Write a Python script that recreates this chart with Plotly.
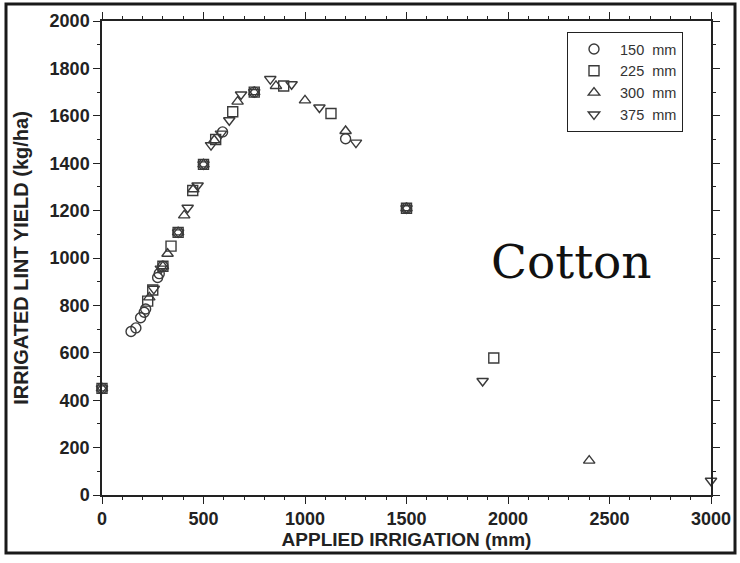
import plotly.graph_objects as go

# Irrigated lint yield (kg/ha) against applied irrigation (mm),
# one series per soil water holding capacity.
irr_150 = [0, 143, 167, 190, 208, 215, 274, 282, 300, 375, 500, 594, 750, 1200, 1500]
yld_150 = [450, 690, 705, 748, 771, 785, 918, 934, 965, 1108, 1395, 1532, 1700, 1503, 1210]

irr_225 = [0, 225, 250, 300, 340, 375, 447, 500, 560, 644, 750, 895, 1128, 1500, 1930]
yld_225 = [450, 818, 865, 965, 1050, 1108, 1285, 1395, 1500, 1617, 1700, 1726, 1610, 1210, 578]

irr_300 = [0, 233, 300, 323, 375, 405, 450, 500, 553, 668, 750, 857, 1000, 1200, 1500, 2400]
yld_300 = [450, 834, 965, 1018, 1108, 1180, 1290, 1395, 1497, 1660, 1700, 1726, 1665, 1536, 1210, 145]

irr_375 = [0, 255, 290, 375, 422, 471, 500, 537, 586, 627, 685, 750, 829, 934, 1071, 1251, 1500, 1875, 3000]
yld_375 = [450, 870, 955, 1108, 1212, 1306, 1395, 1476, 1525, 1581, 1690, 1700, 1755, 1733, 1635, 1487, 1210, 481, 60]

series_names = ["150  mm", "225  mm", "300  mm", "375  mm"]
series_symbols = ["circle-open", "square-open", "triangle-up-open", "triangle-down-open"]

x_ticks = [0, 500, 1000, 1500, 2000, 2500, 3000]
y_ticks = [0, 200, 400, 600, 800, 1000, 1200, 1400, 1600, 1800, 2000]

W, H = 740, 563
L, R, T, B = 102, 711, 21, 495  # plot area edges in pixels

INK = "#222222"
MARK = "#3a3a3a"
FONT = "Liberation Sans, Arial, sans-serif"

fig = go.Figure()
for xs, ys, name, sym in zip(
    [irr_150, irr_225, irr_300, irr_375],
    [yld_150, yld_225, yld_300, yld_375],
    series_names,
    series_symbols,
):
    fig.add_trace(
        go.Scatter(
            x=xs,
            y=ys,
            mode="markers",
            name=name,
            cliponaxis=False,
            marker=dict(symbol=sym, size=10, color=MARK, line=dict(width=1.4, color=MARK)),
        )
    )


def px_x(p):
    return (p - L) / (R - L)


def px_y(p):
    return (B - p) / (B - T)


axis_common = dict(
    showline=True,
    linecolor=INK,
    linewidth=1.5,
    mirror="ticks",
    ticks="outside",
    ticklen=7,
    tickwidth=1.3,
    tickcolor=INK,
    showgrid=False,
    zeroline=False,
    tickfont=dict(family=FONT, size=18, color=INK, weight="bold"),
)

fig.update_xaxes(
    range=[0, 3000],
    tickvals=x_ticks,
    ticktext=[str(v) for v in x_ticks],
    minor=dict(dtick=100, ticks="outside", ticklen=3, tickwidth=1.2, tickcolor=INK),
    title=dict(
        text="APPLIED IRRIGATION (mm)",
        font=dict(family=FONT, size=19, color=INK, weight="bold"),
        standoff=4,
    ),
    **axis_common,
)
fig.update_yaxes(
    range=[0, 2000],
    tickvals=y_ticks,
    ticktext=[str(v) for v in y_ticks],
    minor=dict(dtick=100, ticks="outside", ticklen=3, tickwidth=1.2, tickcolor=INK),
    title=dict(
        text="IRRIGATED LINT YIELD (kg/ha)",
        font=dict(family=FONT, size=20, color=INK, weight="bold"),
        standoff=16,
    ),
    **axis_common,
)

# outer frame around the whole figure
fig.add_shape(
    type="rect",
    xref="paper",
    yref="paper",
    x0=px_x(6),
    x1=px_x(735),
    y0=px_y(553),
    y1=px_y(4),
    line=dict(color="#1a1a1a", width=3),
    layer="above",
)

fig.add_annotation(
    text="Cotton",
    xref="paper",
    yref="paper",
    x=px_x(571),
    y=px_y(261),
    xanchor="center",
    yanchor="middle",
    showarrow=False,
    font=dict(family="DejaVu Serif, serif", size=47, color="#111111"),
)

fig.update_layout(
    width=W,
    height=H,
    margin=dict(l=L, r=W - R, t=T, b=H - B, autoexpand=False),
    paper_bgcolor="white",
    plot_bgcolor="white",
    showlegend=True,
    legend=dict(
        x=px_x(567),
        y=px_y(32),
        xanchor="left",
        yanchor="top",
        bordercolor=INK,
        borderwidth=1,
        bgcolor="white",
        itemwidth=42,
        font=dict(family=FONT, size=14.5, color="#333333"),
        tracegroupgap=0,
    ),
)

fig.write_html("out.html")
